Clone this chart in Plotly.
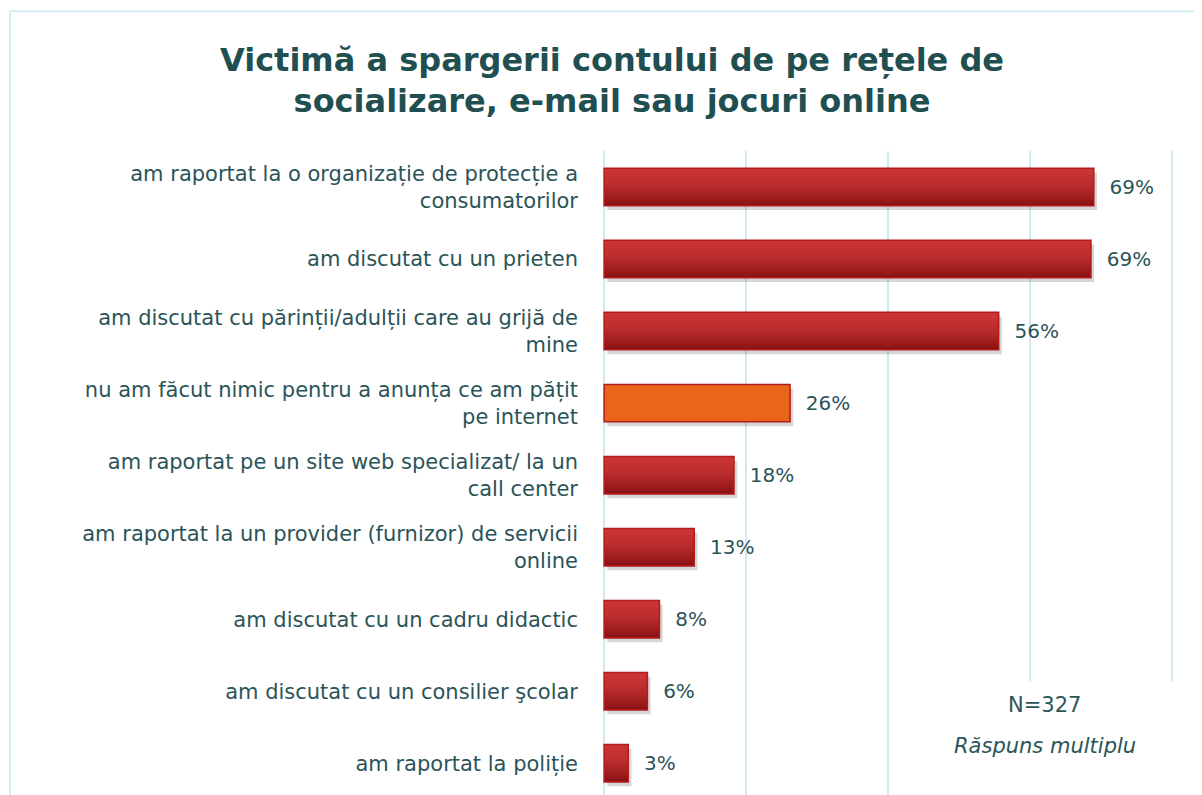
import plotly.graph_objects as go

categories = [
    "am raportat la o organizație de protecție a<br>consumatorilor",
    "am discutat cu un prieten",
    "am discutat cu părinții/adulții care au grijă de<br>mine",
    "nu am făcut nimic pentru a anunța ce am pățit<br>pe internet",
    "am raportat pe un site web specializat/ la un<br>call center",
    "am raportat la un provider (furnizor) de servicii<br>online",
    "am discutat cu un cadru didactic",
    "am discutat cu un consilier şcolar",
    "am raportat la poliție",
]
values = [69.0, 68.6, 55.6, 26.2, 18.3, 12.7, 7.8, 6.1, 3.4]
highlight_index = 3
title_text = "Victimă a spargerii contului de pe rețele de<br>socializare, e-mail sau jocuri online"
note_n = "N=327"
note_multi = "Răspuns multiplu"

TEXT = "#2b5458"
FONT = "DejaVu Sans"
W = 0.52
N_STRIPS = 12
top_rgb = (204, 54, 54)
bot_rgb = (138, 17, 17)
orange = "#e8651a"
GRID = "#d3eaf0"

fig = go.Figure()
ypos = list(range(len(categories)))

# shadow
fig.add_trace(go.Bar(
    x=values, y=ypos, orientation="h", base=0.45,
    width=W, offset=-W / 2 + 0.06,
    marker=dict(color="rgba(0,0,0,0.16)", line=dict(width=0)),
    hoverinfo="skip", showlegend=False,
))

# gradient strips
sw = W / N_STRIPS
for i in range(N_STRIPS):
    t = (i + 0.5) / N_STRIPS
    e = t ** 1.6
    c = tuple(int(top_rgb[k] + (bot_rgb[k] - top_rgb[k]) * e) for k in range(3))
    col = "rgb(%d,%d,%d)" % c
    colors = [orange if j == highlight_index else col for j in range(len(values))]
    fig.add_trace(go.Bar(
        x=values, y=ypos, orientation="h",
        width=sw * (2.0 if i < N_STRIPS - 1 else 1.0), offset=-W / 2 + i * sw,
        marker=dict(color=colors, line=dict(width=0)),
        hoverinfo="skip", showlegend=False,
    ))

# outline + labels
fig.add_trace(go.Bar(
    x=values, y=ypos, orientation="h",
    width=W, offset=-W / 2,
    marker=dict(color="rgba(0,0,0,0)", line=dict(color="#b41c1c", width=1.5)),
    texttemplate="  %{x:.0f}%", textposition="outside", cliponaxis=False,
    textfont=dict(family=FONT, size=20, color=TEXT),
    showlegend=False,
))

fig.update_layout(
    width=1202, height=795,
    barmode="overlay",
    paper_bgcolor="white", plot_bgcolor="white",
    margin=dict(l=594, r=36, t=143, b=8),
    title=dict(text=title_text, x=0.5025, xanchor="center", y=1 - 62.5 / 795, yanchor="middle",
               font=dict(family=FONT, size=32, color="#1f4f50", weight="bold")),
    xaxis=dict(range=[-0.3, 80.3], tickmode="array", tickvals=[0, 20, 40, 60, 80],
               showgrid=True, gridcolor=GRID, gridwidth=1.5,
               showticklabels=False, zeroline=True, zerolinecolor=GRID, zerolinewidth=1.5,
               showline=False, ticks=""),
    yaxis=dict(range=[8.44, -0.5], tickmode="array", tickvals=ypos, ticktext=categories,
               tickfont=dict(family=FONT, size=21, color=TEXT), ticklabelstandoff=23,
               showgrid=False, zeroline=False, showline=False, ticks=""),
    shapes=[
        dict(type="rect", xref="paper", yref="paper", x0=-1.035, x1=1.04, y0=-0.1, y1=1.217,
             line=dict(color="#d6eff4", width=2), fillcolor="rgba(0,0,0,0)", layer="below"),
        dict(type="rect", xref="x", yref="paper", x0=43, x1=86, y0=-0.05, y1=0.177,
             line=dict(width=0), fillcolor="white", layer="above"),
    ],
    annotations=[
        dict(text=note_n, xref="x", yref="paper", x=62.1, y=0.14,
             xanchor="center", yanchor="middle", showarrow=False,
             font=dict(family=FONT, size=21, color=TEXT)),
        dict(text="<i>" + note_multi + "</i>", xref="x", yref="paper", x=62.1, y=0.076,
             xanchor="center", yanchor="middle", showarrow=False,
             font=dict(family=FONT, size=21, color=TEXT)),
    ],
)

fig.write_html("out.html")
